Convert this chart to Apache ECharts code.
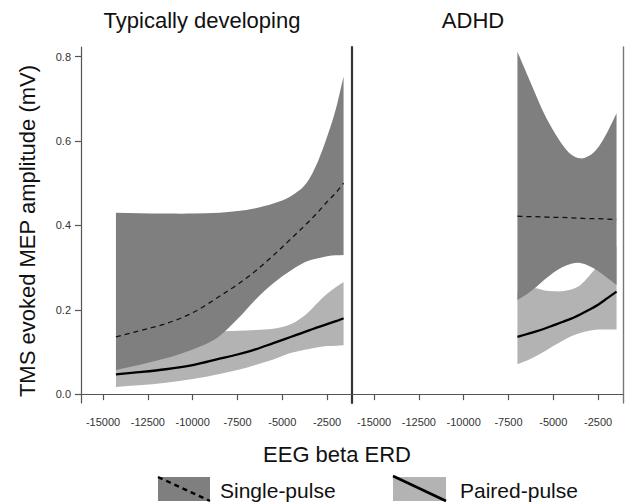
<!DOCTYPE html>
<html>
<head>
<meta charset="utf-8">
<script src="https://cdn.jsdelivr.net/npm/echarts@6/dist/echarts.min.js"></script>
<style>html,body{margin:0;padding:0;background:#fff}#c{width:628px;height:503px}</style>
</head>
<body>
<div id="c"></div>
<script>
// ---- data ----
const panelTitles = ['Typically developing', 'ADHD'];
const xTicks = [-15000, -12500, -10000, -7500, -5000, -2500];
const yTicks = [0, 0.2, 0.4, 0.6, 0.8];
const legendNames = ['Single-pulse', 'Paired-pulse'];

const tdX          = [-14280, -13000, -11500, -10000, -8500, -7500, -6500, -5500, -4500, -3500, -3000, -2500, -2000, -1580];
const tdSingleFit  = [0.136, 0.150, 0.167, 0.193, 0.232, 0.260, 0.292, 0.329, 0.369, 0.410, 0.432, 0.456, 0.478, 0.500];
const tdSingleLo   = [0.057, 0.069, 0.085, 0.106, 0.138, 0.178, 0.224, 0.263, 0.294, 0.317, 0.322, 0.327, 0.329, 0.330];
const tdSingleHi   = [0.430, 0.429, 0.428, 0.428, 0.430, 0.434, 0.441, 0.452, 0.470, 0.510, 0.553, 0.610, 0.678, 0.753];
const tdPairedFit  = [0.047, 0.052, 0.059, 0.069, 0.084, 0.094, 0.106, 0.121, 0.136, 0.151, 0.159, 0.166, 0.173, 0.180];
const tdPairedLo   = [0.017, 0.021, 0.027, 0.036, 0.048, 0.057, 0.069, 0.082, 0.098, 0.107, 0.111, 0.114, 0.115, 0.116];
const tdPairedHi   = [0.075, 0.085, 0.105, 0.130, 0.148, 0.150, 0.152, 0.155, 0.166, 0.196, 0.218, 0.238, 0.254, 0.266];

const adX          = [-7000, -6500, -6000, -5500, -5000, -4500, -4000, -3500, -3000, -2500, -2000, -1470];
const adSingleFit  = [0.422, 0.421, 0.421, 0.420, 0.419, 0.419, 0.418, 0.417, 0.416, 0.416, 0.415, 0.414];
const adSingleLo   = [0.223, 0.236, 0.252, 0.271, 0.288, 0.301, 0.309, 0.311, 0.304, 0.292, 0.276, 0.259];
const adSingleHi   = [0.812, 0.762, 0.712, 0.664, 0.625, 0.592, 0.568, 0.559, 0.565, 0.585, 0.620, 0.666];
const adPairedFit  = [0.136, 0.142, 0.148, 0.155, 0.163, 0.171, 0.179, 0.189, 0.200, 0.212, 0.227, 0.243];
const adPairedLo   = [0.071, 0.079, 0.089, 0.101, 0.114, 0.126, 0.137, 0.145, 0.150, 0.153, 0.153, 0.153];
const adPairedHi   = [0.240, 0.248, 0.251, 0.246, 0.244, 0.244, 0.248, 0.258, 0.280, 0.305, 0.330, 0.350];

// ---- styling ----
const DARK = '#7f7f7f', LIGHT = '#b3b3b3';
const FONT = '"Liberation Sans", Arial, Helvetica, sans-serif';
const X_MIN = -16230, X_MAX = -1110, Y_MIN = -0.021, Y_MAX = 0.823;

// Smooth (cubic Hermite) path through pixel points, ordered by x (either direction)
function hermite(p, start) {
  const n = p.length;
  const s = [], m = [];
  for (let i = 0; i < n - 1; i++) s.push((p[i + 1][1] - p[i][1]) / (p[i + 1][0] - p[i][0]));
  for (let i = 0; i < n; i++) {
    if (i === 0) m.push(s[0]);
    else if (i === n - 1) m.push(s[n - 2]);
    else {
      const h0 = Math.abs(p[i][0] - p[i - 1][0]), h1 = Math.abs(p[i + 1][0] - p[i][0]);
      m.push((s[i - 1] * h1 + s[i] * h0) / (h0 + h1));
    }
  }
  let d = (start ? 'M' : 'L') + p[0][0] + ',' + p[0][1];
  for (let i = 0; i < n - 1; i++) {
    const dx = p[i + 1][0] - p[i][0];
    const c1 = [p[i][0] + dx / 3, p[i][1] + m[i] * dx / 3];
    const c2 = [p[i + 1][0] - dx / 3, p[i + 1][1] - m[i + 1] * dx / 3];
    d += 'C' + c1[0] + ',' + c1[1] + ' ' + c2[0] + ',' + c2[1] + ' ' + p[i + 1][0] + ',' + p[i + 1][1];
  }
  return d;
}

function band(idx, xs, lo, hi, color, z) {
  return {
    type: 'custom', coordinateSystem: 'cartesian2d', xAxisIndex: idx, yAxisIndex: idx * 2,
    data: [[xs[0], lo[0]]], z: z, silent: true, clip: true,
    renderItem: function (params, api) {
      const top = xs.map((x, i) => api.coord([x, hi[i]]));
      const bot = xs.map((x, i) => api.coord([x, lo[i]])).reverse();
      const d = hermite(top, true) + hermite(bot, false) + 'Z';
      return { type: 'path', shape: { pathData: d }, style: { fill: color, stroke: null } };
    }
  };
}
function fitLine(idx, xs, ys, dashed) {
  return {
    type: 'custom', coordinateSystem: 'cartesian2d', xAxisIndex: idx, yAxisIndex: idx * 2,
    data: [[xs[0], ys[0]]], z: 10, silent: true, clip: true,
    renderItem: function (params, api) {
      const pts = xs.map((x, i) => api.coord([x, ys[i]]));
      return { type: 'path', shape: { pathData: hermite(pts, true) },
        style: dashed ? { fill: null, stroke: '#111', lineWidth: 1.3, lineDash: [5, 4] }
                      : { fill: null, stroke: '#000', lineWidth: 2.3 } };
    }
  };
}

const grids = [
  { left: 81, top: 47, width: 271, height: 356 },
  { left: 352, top: 47, width: 271, height: 356 }
];

const xAxes = grids.map((g, i) => ({
  type: 'value', gridIndex: i, min: X_MIN, max: X_MAX,
  axisLine: { show: true, lineStyle: { color: '#555', width: 1.2 } },
  axisTick: { show: true, length: 6, inside: false, customValues: xTicks, lineStyle: { color: '#555', width: 1.2 } },
  axisLabel: { show: true, customValues: xTicks, formatter: v => String(v), margin: 13,
               fontSize: 11, color: '#333', fontFamily: FONT },
  splitLine: { show: false }
}));

const yAxes = [
  { type: 'value', gridIndex: 0, position: 'left', min: Y_MIN, max: Y_MAX,
    axisLine: { show: true, lineStyle: { color: '#555', width: 1.2 } },
    axisTick: { show: true, length: 6, customValues: yTicks, lineStyle: { color: '#555', width: 1.2 } },
    axisLabel: { show: true, customValues: yTicks, formatter: v => v.toFixed(1), margin: 10,
                 fontSize: 11, color: '#333', fontFamily: FONT },
    splitLine: { show: false } },
  { type: 'value', gridIndex: 0, position: 'right', min: Y_MIN, max: Y_MAX,
    axisLine: { show: false }, axisTick: { show: false }, axisLabel: { show: false }, splitLine: { show: false } },
  { type: 'value', gridIndex: 1, position: 'left', min: Y_MIN, max: Y_MAX,
    axisLine: { show: true, lineStyle: { color: '#333', width: 2.2 } },
    axisTick: { show: false }, axisLabel: { show: false }, splitLine: { show: false } },
  { type: 'value', gridIndex: 1, position: 'right', min: Y_MIN, max: Y_MAX,
    axisLine: { show: true, lineStyle: { color: '#777', width: 1.4 } },
    axisTick: { show: false }, axisLabel: { show: false }, splitLine: { show: false } }
];

const series = [
  band(0, tdX, tdPairedLo, tdPairedHi, LIGHT, 2),
  band(0, tdX, tdSingleLo, tdSingleHi, DARK, 3),
  fitLine(0, tdX, tdSingleFit, true),
  fitLine(0, tdX, tdPairedFit, false),
  band(1, adX, adPairedLo, adPairedHi, LIGHT, 2),
  band(1, adX, adSingleLo, adSingleHi, DARK, 3),
  fitLine(1, adX, adSingleFit, true),
  fitLine(1, adX, adPairedFit, false)
];

const txt = (x, y, text, size) => ({
  type: 'text', x: x, y: y,
  style: { text: text, fontSize: size, fontFamily: FONT, fill: '#111', align: 'center', verticalAlign: 'middle' }
});

const graphic = [
  txt(202, 20, panelTitles[0], 22),
  txt(473, 20, panelTitles[1], 22),
  txt(337, 454, 'EEG beta ERD', 22),
  { type: 'text', x: 27, y: 231, rotation: Math.PI / 2,
    style: { text: 'TMS evoked MEP amplitude (mV)', fontSize: 22, fontFamily: FONT, fill: '#111',
             align: 'center', verticalAlign: 'middle' } },
  { type: 'rect', shape: { x: 158, y: 477, width: 52, height: 24 }, style: { fill: DARK } },
  { type: 'line', shape: { x1: 158, y1: 477, x2: 210, y2: 501 },
    style: { stroke: '#000', lineWidth: 2.4, lineDash: [5, 4] } },
  { type: 'text', x: 220, y: 490, style: { text: legendNames[0], fontSize: 21, fontFamily: FONT, fill: '#111',
    align: 'left', verticalAlign: 'middle' } },
  { type: 'rect', shape: { x: 393, y: 477, width: 53, height: 24 }, style: { fill: LIGHT } },
  { type: 'line', shape: { x1: 393, y1: 476, x2: 446, y2: 501 },
    style: { stroke: '#000', lineWidth: 2.6 } },
  { type: 'text', x: 460, y: 490, style: { text: legendNames[1], fontSize: 21, fontFamily: FONT, fill: '#111',
    align: 'left', verticalAlign: 'middle' } }
];

const chart = echarts.init(document.getElementById('c'), null, { renderer: 'svg' });
chart.setOption({
  animation: false,
  backgroundColor: '#fff',
  grid: grids,
  xAxis: xAxes,
  yAxis: yAxes,
  series: series,
  graphic: graphic
});
</script>
</body>
</html>
